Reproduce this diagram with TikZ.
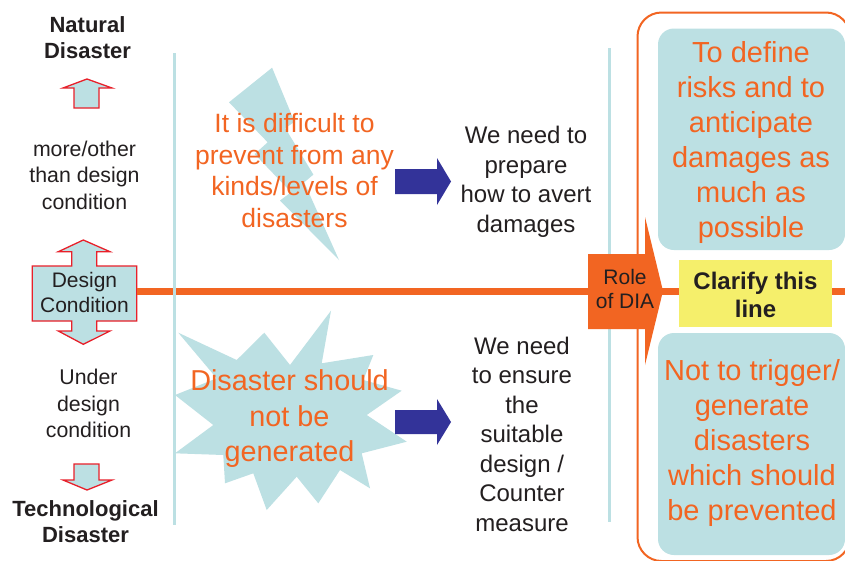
\documentclass[tikz,border=0pt]{standalone}
\usepackage{fontspec}
\setmainfont{Liberation Sans}
\usetikzlibrary{arrows.meta,positioning,calc}
\definecolor{dorange}{HTML}{F26522}
\definecolor{paleblue}{HTML}{BCE0E3}
\definecolor{navy}{HTML}{333399}
\definecolor{redline}{HTML}{E8202A}
\definecolor{lemon}{HTML}{F5EF6B}
\definecolor{ink}{HTML}{231F20}
\tikzset{lbl/.style={align=center,text=ink,inner sep=0pt,font=\fontsize{21.3}{26.5}\selectfont},lblbold/.style={lbl,font=\fontsize{22}{25.5}\selectfont\bfseries},need/.style={align=center,text=ink,inner sep=0pt,font=\fontsize{24}{29.5}\selectfont},msg/.style={align=center,text=dorange,inner sep=0pt},panel/.style={fill=paleblue,rounded corners=16pt},divider/.style={paleblue,line width=3pt},outlinearrow/.style={draw=redline,line width=1.3pt,fill=paleblue,line join=miter},bluearrow/.style={fill=navy},spark/.style={fill=paleblue}}

\begin{document}
\begin{tikzpicture}[x=1pt,y=-1pt]
\useasboundingbox (0,0) rectangle (845,560);
\clip (0,0) rectangle (845,560);
\fill[white] (0,0) rectangle (845,560);
% left column
\node[lblbold] (natural) at (87.5,37.5) {Natural\\Disaster};
\draw[outlinearrow] (74,108)--(74,88)--(63,88)--(87,79)--(112,88)--(99,88)--(99,108)--cycle;
\node[lbl] (above) at (84.5,175) {more/other\\than design\\condition};
\draw[outlinearrow] (83.3,240)--(110,251.7)--(96.7,251.7)--(96.7,266)--(136.7,266)--(136.7,321)--(96.7,321)--(96.7,331)--(110,331)--(83.3,344.3)--(58.3,331)--(71.7,331)--(71.7,321)--(32.3,321)--(32.3,266)--(71.7,266)--(71.7,251.7)--(58.3,251.7)--cycle;
\node[lbl,font=\fontsize{21}{25}\selectfont] (design) at (84.5,292.5) {Design\\Condition};
\node[lbl] (under) at (88.5,403.5) {Under\\design\\condition};
\draw[outlinearrow] (74,464)--(99,464)--(99,480)--(112,480)--(87,490)--(63,480)--(74,480)--cycle;
\node[lblbold] (techno) at (85.5,521.5) {Technological\\Disaster};
% design line
\coordinate (dcR) at (136.7,291.7);
\coordinate (lineend) at (850,291.7);
\draw[dorange,line width=7pt] (dcR)--(lineend);
\draw[divider] (174,53)--(174,525);
\draw[divider] (609,48)--(609,522);
% middle: bolt and burst
\fill[spark] (272.1,67.7)--(294.5,121.8)--(285.3,128.2)--(313.4,174.6)--(304.2,182.3)--(339,260)--(280,200.5)--(291.2,192.2)--(254.6,154.1)--(267.7,142.3)--(229,102.3)--cycle;
\node[msg,font=\fontsize{26.5}{31.7}\selectfont] (difficult) at (294.5,170.5) {It is difficult to\\prevent from any\\kinds/levels of\\disasters};
\fill[spark] (178.3,332.7)--(236.7,360)--(264.3,332.7)--(290,365)--(331,310.7)--(321.7,363.3)--(373.3,355)--(363.3,380)--(401.7,390.7)--(366.7,415)--(406.7,441.7)--(361.7,453.3)--(370,488.3)--(340,470)--(318.3,503.3)--(296.7,476.7)--(266.7,510)--(253.3,473.3)--(225,483.3)--(223.3,455)--(175,453.3)--(213.3,425)--(175,395)--(216.7,378.3)--cycle;
\node[msg,font=\fontsize{28.8}{35.5}\selectfont] (generated) at (289.5,419) {Disaster should\\not be\\generated};
\fill[bluearrow] (395,169)--(437,169)--(437,158)--(451,181.5)--(437,205)--(437,194)--(395,194)--cycle;
\fill[bluearrow] (395,410)--(437,410)--(437,399)--(451,422)--(437,445)--(437,434)--(395,434)--cycle;
\node[need] (avert) at (526,182) {We need to\\prepare\\how to avert\\damages};
\node[need] (ensure) at (522,434) {We need\\to ensure\\the\\suitable\\design /\\Counter\\measure};
% right: role of DIA
\draw[dorange,line width=2pt,rounded corners=24pt] (637.5,12.5) rectangle (850,561);
\fill[dorange] (588,254)--(645,254)--(645,217)--(663,291)--(645,365)--(645,329)--(588,329)--cycle;
\node[lbl,font=\fontsize{21}{24}\selectfont] (role) at (625,288.5) {Role\\of DIA};
\fill[panel] (658,28.5) rectangle (845,250);
\node[msg,font=\fontsize{29}{35}\selectfont] (define) at (751,142) {To define\\risks and to\\anticipate\\damages as\\much as\\possible};
\fill[lemon] (679,260) rectangle (832,327);
\node[lbl,font=\fontsize{24}{28}\selectfont\bfseries] (clarify) at (755.5,295) {Clarify this\\line};
\fill[panel] (658,333) rectangle (845,555);
\node[msg,font=\fontsize{29}{35}\selectfont] (trigger) at (752,442.5) {Not to trigger/\\generate\\disasters\\which should\\be prevented};
\end{tikzpicture}
\end{document}
